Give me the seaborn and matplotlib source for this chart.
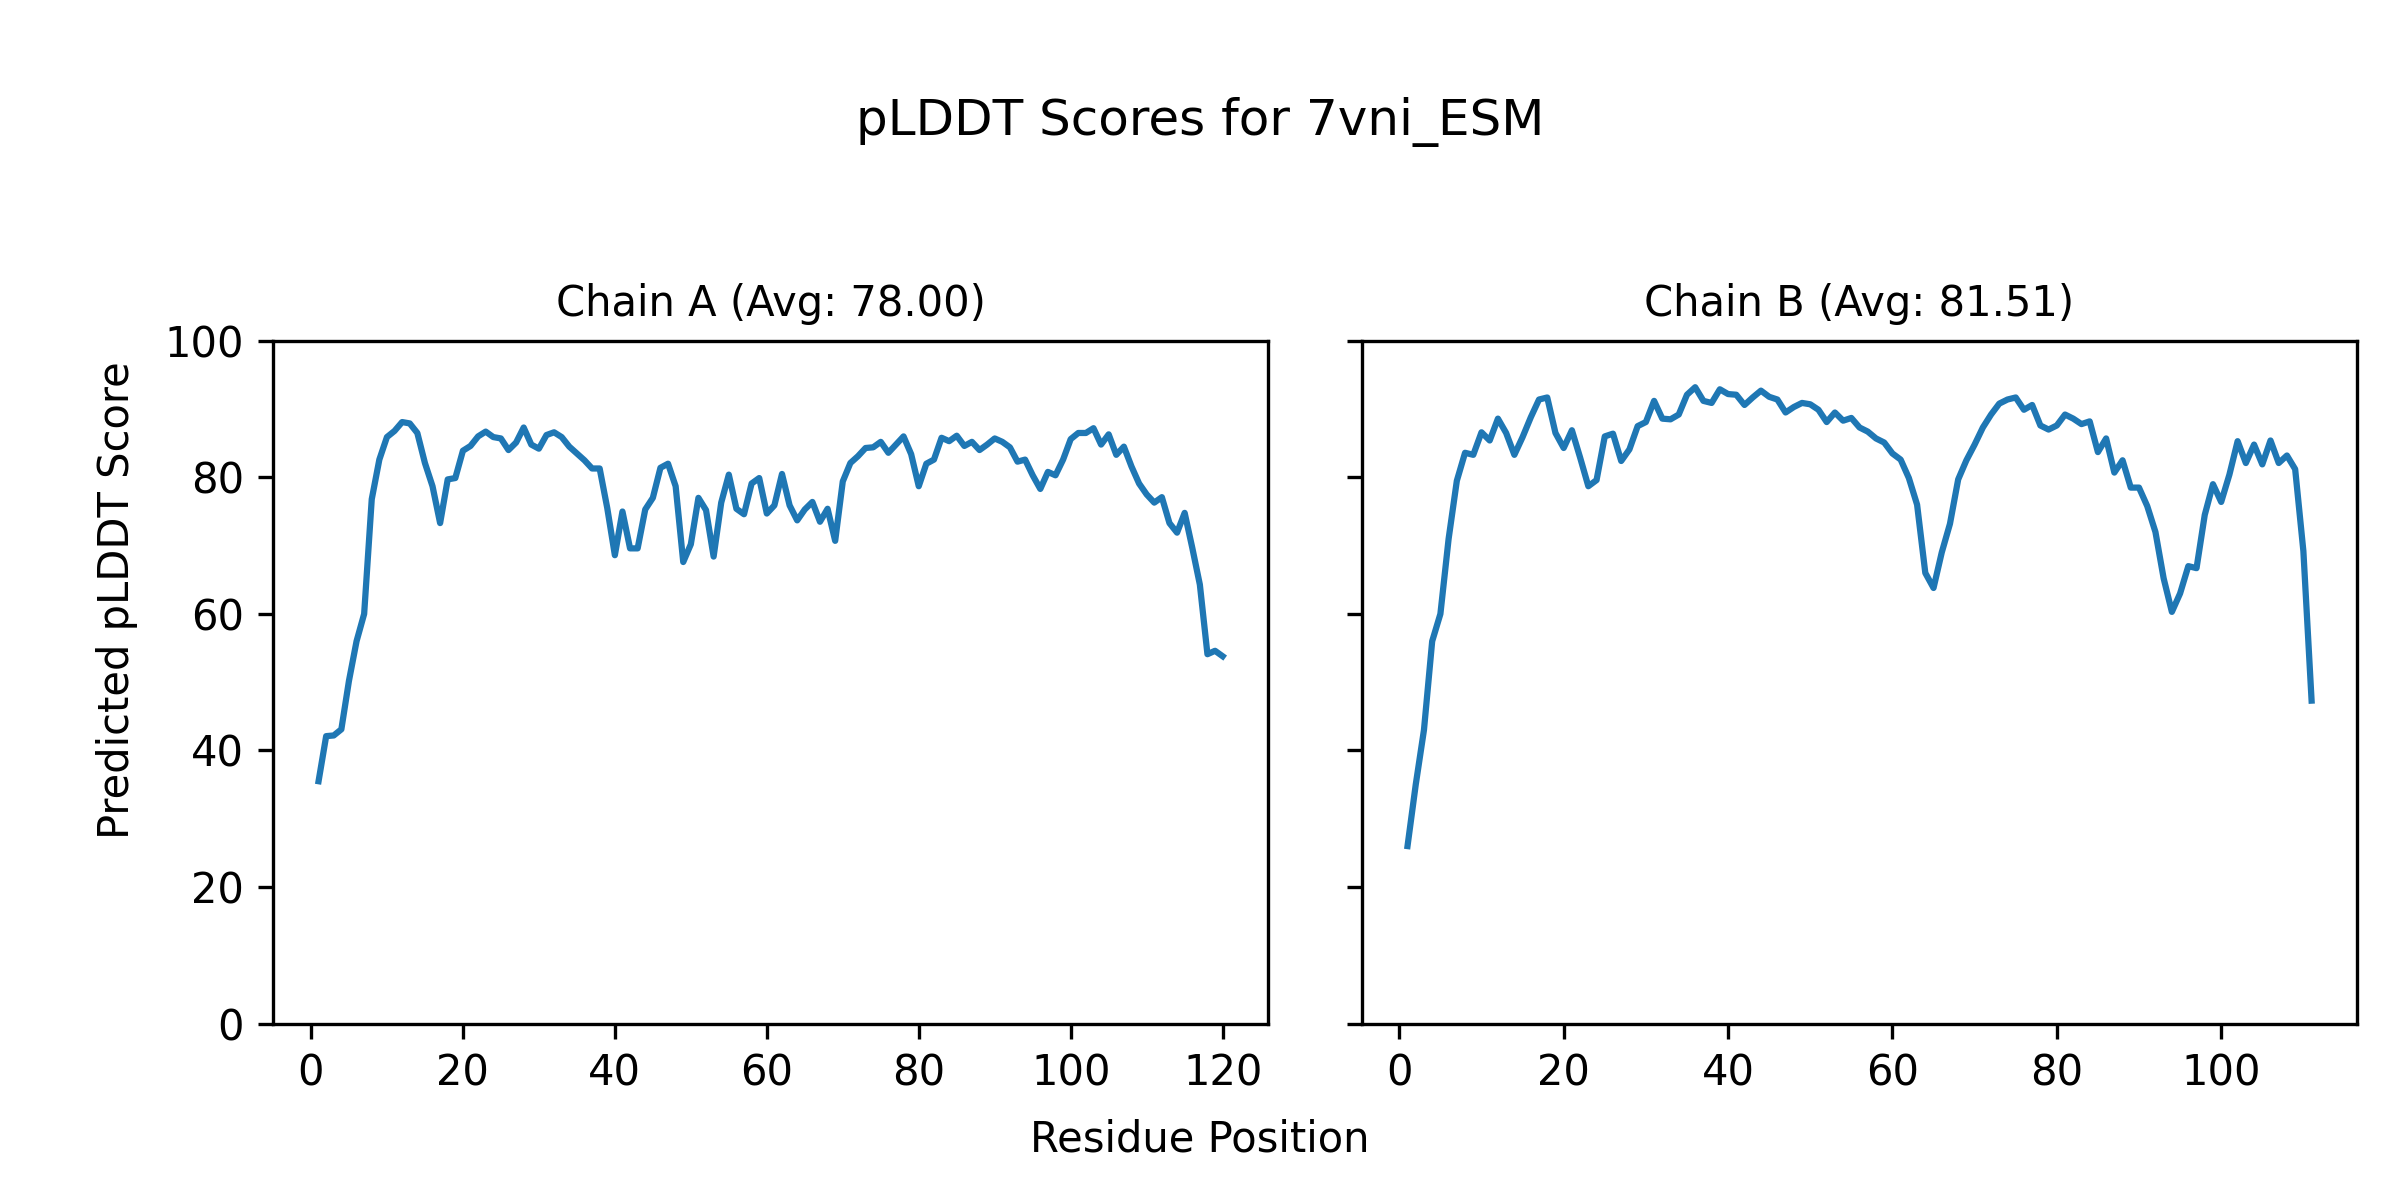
import numpy as np
import matplotlib.pyplot as plt
import seaborn as sns

# ----------------------------------------------------------
# pLDDT per residue
# ----------------------------------------------------------

chain_a_scores = [
    35.5, 42.1, 42.2, 43.1, 50.2, 56.0, 60.0, 76.8, 82.6, 85.9,
    86.8, 88.1, 87.9, 86.5, 82.1, 78.7, 73.3, 79.7, 79.9, 83.9,
    84.6, 86.0, 86.7, 85.9, 85.7, 84.0, 85.1, 87.3, 84.8, 84.2,
    86.2, 86.6, 85.9, 84.5, 83.5, 82.5, 81.3, 81.3, 75.5, 68.6,
    75.0, 69.6, 69.6, 75.3, 77.0, 81.4, 82.0, 78.7, 67.6, 70.2,
    77.0, 75.2, 68.4, 76.3, 80.4, 75.4, 74.6, 79.1, 79.9, 74.7,
    75.9, 80.5, 75.9, 73.7, 75.3, 76.4, 73.5, 75.4, 70.7, 79.4,
    82.1, 83.1, 84.3, 84.4, 85.2, 83.6, 84.8, 86.0, 83.4, 78.7,
    82.0, 82.6, 85.8, 85.3, 86.1, 84.6, 85.2, 84.0, 84.8, 85.7,
    85.2, 84.4, 82.3, 82.6, 80.3, 78.3, 80.8, 80.3, 82.6, 85.6,
    86.5, 86.5, 87.2, 84.8, 86.3, 83.3, 84.5, 81.6, 79.1, 77.5,
    76.3, 77.1, 73.3, 71.9, 74.8, 69.7, 64.3, 54.1, 54.6, 53.8,
]

chain_b_scores = [
    26.0, 35.0, 43.0, 56.0, 60.0, 71.0, 79.5, 83.6, 83.3, 86.6,
    85.4, 88.6, 86.5, 83.3, 85.9, 88.8, 91.4, 91.7, 86.5, 84.3,
    86.9, 82.9, 78.7, 79.6, 86.0, 86.4, 82.4, 84.1, 87.5, 88.1,
    91.2, 88.6, 88.5, 89.2, 92.1, 93.2, 91.2, 90.9, 92.9, 92.2,
    92.1, 90.6, 91.7, 92.7, 91.8, 91.4, 89.5, 90.3, 90.9, 90.7,
    89.9, 88.1, 89.5, 88.3, 88.7, 87.3, 86.7, 85.7, 85.1, 83.5,
    82.6, 79.9, 76.0, 66.0, 63.8, 69.0, 73.2, 79.7, 82.5, 84.8,
    87.3, 89.2, 90.8, 91.4, 91.7, 89.9, 90.6, 87.6, 87.0, 87.6,
    89.2, 88.6, 87.8, 88.2, 83.7, 85.7, 80.7, 82.5, 78.5, 78.5,
    75.8, 72.0, 65.2, 60.3, 63.0, 67.0, 66.7, 74.5, 79.0, 76.4,
    80.4, 85.3, 82.1, 84.8, 81.9, 85.4, 82.1, 83.2, 81.2, 69.2,
    47.3,
]

chain_names = ["Chain A", "Chain B"]
chain_avgs = [78.00, 81.51]

# ----------------------------------------------------------
# PLOT
# ----------------------------------------------------------

fig, axes = plt.subplots(1, 2, figsize=(8, 4), dpi=300, sharey=True)

for ax, name, avg, scores in zip(axes, chain_names, chain_avgs,
                                 [chain_a_scores, chain_b_scores]):
    residues = np.arange(1, len(scores) + 1)
    sns.lineplot(x=residues, y=scores, ax=ax, color="tab:blue", linewidth=1.5)
    ax.set_title(f"{name} (Avg: {avg:.2f})", fontsize=10)
    ax.set_xlabel("")
    ax.set_ylabel("")
    ax.set_ylim(0, 100)

fig.suptitle("pLDDT Scores for 7vni_ESM", fontsize=12, y=0.8875, va="baseline")
fig.text(0.5, 0.04, "Residue Position", ha="center", fontsize=10)
fig.text(0.04, 0.5, "Predicted pLDDT Score", va="center",
         rotation="vertical", fontsize=10)

fig.subplots_adjust(left=0.1139, right=0.982, bottom=0.147, top=0.716, wspace=0.095)

fig.savefig("out.png", dpi=300)
